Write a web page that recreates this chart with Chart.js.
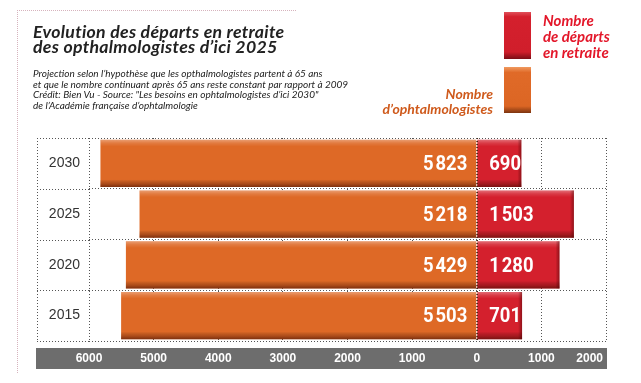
<!DOCTYPE html>
<html><head><meta charset="utf-8">
<script src="https://cdn.jsdelivr.net/npm/chart.js@4/dist/chart.umd.min.js"></script>
<style>
html,body{margin:0;padding:0;background:#fff;}
#wrap{position:relative;width:641px;height:383px;overflow:hidden;background:#fff;}
#c{position:absolute;left:0;top:0;}
.t{position:absolute;white-space:nowrap;font-family:Lato,'Open Sans',sans-serif;}
.title{left:33px;font-size:17.7px;font-weight:700;font-style:italic;color:#222;line-height:17px;letter-spacing:0.3px;}
.sub{left:33px;font-size:10px;font-style:italic;color:#222;line-height:10px;}
.lr{left:543px;font-size:15px;font-weight:700;font-style:italic;color:#e3172a;line-height:16px;}
.lo{right:148px;text-align:right;font-size:14px;font-weight:700;font-style:italic;color:#cf5a1c;line-height:15px;}
#frame{position:absolute;left:17px;top:10px;width:278px;height:362px;border-top:1px dotted #d6b3bd;border-left:1px dotted #d6b3bd;}
.sq{position:absolute;left:504px;width:27px;}
</style></head>
<body><div id="wrap">
<div id="frame"></div>
<canvas id="c" width="641" height="383"></canvas>
<div class="t title" style="top:23px">Evolution des départs en retraite</div>
<div class="t title" style="top:38px">des opthalmologistes d’ici 2025</div>
<div class="t sub" style="top:68px">Projection selon l’hypothèse que les opthalmologistes partent à 65 ans</div>
<div class="t sub" style="top:78.5px">et que le nombre continuant après 65 ans reste constant par rapport à 2009</div>
<div class="t sub" style="top:89px">Crédit: Bien Vu - Source: "Les besoins en ophtalmologistes d’ici 2030"</div>
<div class="t sub" style="top:99.5px">de l’Académie française d’ophtalmologie</div>
<div class="sq" style="top:12px;height:47px;background:linear-gradient(to bottom,#e0505a 0%,#d4202d 10%,#d01e2b 85%,#7a0e16 100%);"></div>
<div class="sq" style="top:67px;height:46px;background:linear-gradient(to bottom,#f09a60 0%,#e06a28 12%,#dc6624 85%,#7c3410 100%);"></div>
<div class="t lr" style="top:12px">Nombre</div>
<div class="t lr" style="top:28px">de départs</div>
<div class="t lr" style="top:44px">en retraite</div>
<div class="t lo" style="top:86px">Nombre<br>d’ophtalmologistes</div>
</div>
<script>
const categories = ['2030', '2025', '2020', '2015'];
const ophtalmologistes = [5823, 5218, 5429, 5503];
const departs = [690, 1503, 1280, 701];
const xTickValues = [-6000, -5000, -4000, -3000, -2000, -1000, 0, 1000, 2000];
const xTickLabels = ['6000', '5000', '4000', '3000', '2000', '1000', '0', '1000', '2000'];

const ORANGE = '#de6926';
const RED = '#d4202d';
const valueFont = "bold 21px Roboto,'Liberation Sans',sans-serif";
const squeeze = 0.88;

function fmt(v){
  const s = String(v);
  return s.length > 3 ? s.slice(0, s.length - 3) + '\u200A' + s.slice(-3) : s;
}

function squeezedText(ctx, text, x, y, align){
  ctx.save();
  ctx.translate(x, y);
  ctx.scale(squeeze, 1);
  ctx.textAlign = align;
  ctx.fillText(text, 0, 0);
  ctx.restore();
}

const decor = {
  id: 'decor',
  beforeDatasetsDraw(chart){
    const ctx = chart.ctx, ca = chart.chartArea, y = chart.scales.y;
    ctx.save();
    ctx.strokeStyle = '#555';
    ctx.lineWidth = 1;
    ctx.setLineDash([1, 2]);
    const n = categories.length;
    const bounds = [ca.top];
    for (let i = 0; i < n - 1; i++) bounds.push((y.getPixelForValue(i) + y.getPixelForValue(i + 1)) / 2);
    bounds.push(ca.bottom);
    bounds.forEach(b => {
      const yy = Math.round(b) + 0.5;
      ctx.beginPath(); ctx.moveTo(37, yy); ctx.lineTo(ca.left, yy); ctx.stroke();
    });
    ctx.beginPath(); ctx.moveTo(37.5, ca.top); ctx.lineTo(37.5, ca.bottom); ctx.stroke();
    ctx.restore();
  },
  afterDatasetsDraw(chart){
    const ctx = chart.ctx, ca = chart.chartArea, x = chart.scales.x;
    ctx.save();
    chart.data.datasets.forEach((ds, di) => {
      const meta = chart.getDatasetMeta(di);
      meta.data.forEach((el, i) => {
        const left = Math.min(el.x, el.base), right = Math.max(el.x, el.base);
        const top = el.y - el.height / 2, h = el.height;
        const g = ctx.createLinearGradient(0, top, 0, top + h);
        g.addColorStop(0, 'rgba(255,255,255,0.35)');
        g.addColorStop(0.07, 'rgba(255,255,255,0.12)');
        g.addColorStop(0.14, 'rgba(255,255,255,0)');
        g.addColorStop(0.84, 'rgba(0,0,0,0)');
        g.addColorStop(0.93, 'rgba(60,10,0,0.3)');
        g.addColorStop(1, 'rgba(60,10,0,0.6)');
        ctx.fillStyle = g;
        ctx.fillRect(left, top, right - left, h);
        if (di === 1) {
          const g2 = ctx.createLinearGradient(right - 4, 0, right, 0);
          g2.addColorStop(0, 'rgba(60,0,0,0)');
          g2.addColorStop(1, 'rgba(60,0,0,0.45)');
          ctx.fillStyle = g2;
          ctx.fillRect(right - 4, top, 4, h);
        }
      });
    });
    const zx = Math.round(x.getPixelForValue(0)) + 0.5;
    ctx.strokeStyle = '#4a2a10';
    ctx.lineWidth = 1;
    ctx.setLineDash([1, 2]);
    ctx.beginPath(); ctx.moveTo(zx, ca.top); ctx.lineTo(zx, ca.bottom); ctx.stroke();
    ctx.setLineDash([]);
    ctx.font = valueFont;
    ctx.fillStyle = '#fff';
    ctx.textBaseline = 'middle';
    const m0 = chart.getDatasetMeta(0), m1 = chart.getDatasetMeta(1);
    m0.data.forEach((el, i) => {
      squeezedText(ctx, fmt(ophtalmologistes[i]), el.base - 9, el.y + 1.5, 'right');
    });
    m1.data.forEach((el, i) => {
      squeezedText(ctx, fmt(departs[i]), el.base + 12, el.y + 1.5, 'left');
    });
    ctx.fillStyle = '#6d6d6d';
    ctx.fillRect(36, 348, 571, 21);
    ctx.font = "bold 12px 'Liberation Sans',Arial,sans-serif";
    ctx.fillStyle = '#fff';
    xTickValues.forEach((v, i) => {
      const px = x.getPixelForValue(v);
      if (i === xTickValues.length - 1) { ctx.textAlign = 'right'; ctx.fillText(xTickLabels[i], 603, 359); }
      else { ctx.textAlign = 'center'; ctx.fillText(xTickLabels[i], px, 359); }
    });
    ctx.restore();
  }
};

new Chart(document.getElementById('c'), {
  type: 'bar',
  data: {
    labels: categories,
    datasets: [
      { label: 'Nombre d’ophtalmologistes', data: ophtalmologistes.map(v => -v), backgroundColor: ORANGE, borderWidth: 0 },
      { label: 'Nombre de départs en retraite', data: departs, backgroundColor: RED, borderWidth: 0 }
    ]
  },
  options: {
    indexAxis: 'y',
    responsive: false,
    animation: false,
    devicePixelRatio: 1,
    layout: { padding: { left: 0, right: 35, top: 138, bottom: 42 } },
    plugins: { legend: { display: false }, tooltip: { enabled: false } },
    datasets: { bar: { categoryPercentage: 1, barPercentage: 0.93 } },
    scales: {
      x: {
        stacked: true, min: -6000, max: 2000,
        ticks: { display: false, stepSize: 1000 },
        grid: { color: '#555', lineWidth: 1, drawTicks: false, borderDash: [1, 2] },
        border: { display: false, dash: [1, 2] }
      },
      y: {
        stacked: true,
        afterFit(s){ s.width = 89; },
        ticks: { color: '#333', font: { family: "'Liberation Sans',Arial,sans-serif", size: 14 }, padding: 9 },
        grid: { color: '#555', lineWidth: 1, drawTicks: false, borderDash: [1, 2] },
        border: { display: false, dash: [1, 2] }
      }
    }
  },
  plugins: [decor]
});
</script>
</body></html>
